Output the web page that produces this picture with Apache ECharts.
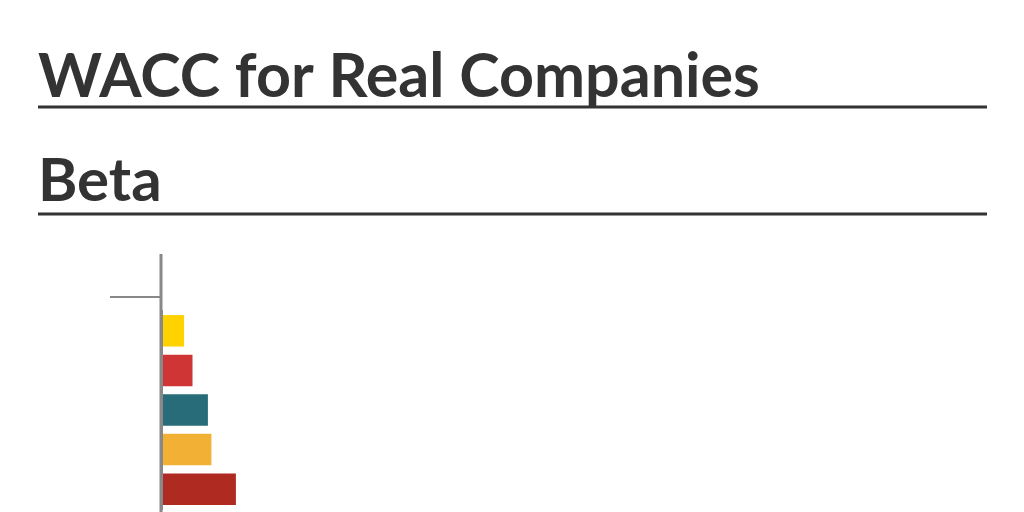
<!DOCTYPE html>
<html>
<head>
<meta charset="utf-8">
<script src="https://cdn.jsdelivr.net/npm/echarts@6/dist/echarts.min.js"></script>
<style>
html,body{margin:0;padding:0;background:#fff;}
#chart{width:1024px;height:512px;}
</style>
</head>
<body>
<div id="chart"></div>
<script>
var titleText = 'WACC for Real Companies';
var subtitleText = 'Beta';
var companies = ['Company A', 'Company B', 'Company C', 'Company D', 'Company E'];
var betaValues = [0.33, 0.45, 0.67, 0.72, 1.07];
var barColors = ['#FFD200', '#CF3535', '#286B79', '#F2B135', '#AF2A20'];

var chart = echarts.init(document.getElementById('chart'));
var titleFont = {fontFamily: 'Lato', fontWeight: 'bold', color: '#333333'};
chart.setOption({
  animation: false,
  backgroundColor: '#ffffff',
  title: [
    {text: titleText, left: 38, top: 47, padding: 0,
     textStyle: Object.assign({fontSize: 61, lineHeight: 61}, titleFont)},
    {text: subtitleText, left: 38, top: 152, padding: 0,
     textStyle: Object.assign({fontSize: 60, lineHeight: 60}, titleFont)}
  ],
  graphic: [
    {type: 'rect', shape: {x: 38, y: 105.5, width: 949, height: 3}, style: {fill: '#333333'}},
    {type: 'rect', shape: {x: 38, y: 212.5, width: 949, height: 3}, style: {fill: '#333333'}},
    {type: 'line', shape: {x1: 161, y1: 254, x2: 161, y2: 512}, style: {stroke: '#888888', lineWidth: 3}},
    {type: 'line', shape: {x1: 110, y1: 297, x2: 160, y2: 297}, style: {stroke: '#888888', lineWidth: 2}}
  ],
  grid: {left: 161, top: 311, width: 700, height: 198, containLabel: false},
  xAxis: {type: 'value', min: 0, max: 10, show: false},
  yAxis: {
    type: 'category', inverse: true, data: companies,
    axisLine: {show: true, lineStyle: {color: '#888888', width: 3}},
    axisTick: {show: false}, axisLabel: {show: false}, splitLine: {show: false},
    z: 5
  },
  series: [{
    type: 'bar',
    barWidth: 31.5,
    data: betaValues.map(function (v, i) { return {value: v, itemStyle: {color: barColors[i]}}; })
  }]
});
</script>
</body>
</html>
